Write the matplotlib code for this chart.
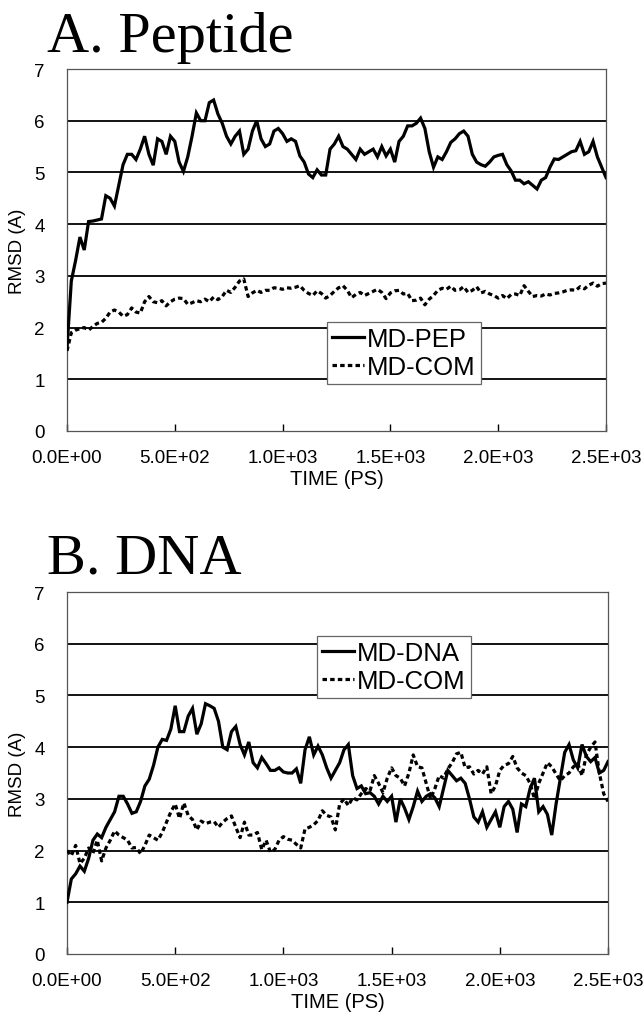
import numpy as np
import matplotlib
matplotlib.use("Agg")
import matplotlib.pyplot as plt

# ---------------- data ----------------
time_ps = list(range(0, 2501, 20))

pep_a = [1.6, 2.9, 3.3, 3.75, 3.5, 4.05, 4.06, 4.08, 4.1, 4.55,
         4.5, 4.35, 4.75, 5.15, 5.35, 5.35, 5.25, 5.45, 5.7, 5.35,
         5.14, 5.65, 5.6, 5.35, 5.7, 5.6, 5.2, 5.02, 5.3, 5.7,
         6.15, 6.0, 6.0, 6.35, 6.4, 6.13, 5.95, 5.7, 5.55, 5.7,
         5.8, 5.35, 5.45, 5.8, 6.0, 5.65, 5.5, 5.55, 5.8, 5.85,
         5.75, 5.6, 5.65, 5.6, 5.32, 5.2, 4.97, 4.9, 5.05, 4.95,
         4.95, 5.45, 5.55, 5.7, 5.5, 5.45, 5.35, 5.25, 5.45, 5.35,
         5.4, 5.45, 5.3, 5.5, 5.32, 5.45, 5.2, 5.6, 5.7, 5.9,
         5.9, 5.95, 6.05, 5.85, 5.4, 5.1, 5.3, 5.25, 5.4, 5.58,
         5.65, 5.75, 5.8, 5.7, 5.35, 5.2, 5.15, 5.12, 5.2, 5.3,
         5.33, 5.35, 5.15, 5.03, 4.85, 4.85, 4.78, 4.82, 4.75, 4.68,
         4.85, 4.9, 5.1, 5.26, 5.25, 5.3, 5.35, 5.4, 5.42, 5.6,
         5.35, 5.4, 5.6, 5.3, 5.1, 4.9]

com_a = [1.55, 1.9, 1.95, 1.98, 2.0, 1.95, 2.02, 2.08, 2.1, 2.18,
         2.3, 2.34, 2.3, 2.22, 2.25, 2.38, 2.3, 2.28, 2.5, 2.6,
         2.5, 2.48, 2.52, 2.42, 2.5, 2.55, 2.57, 2.56, 2.45, 2.48,
         2.52, 2.5, 2.55, 2.5, 2.59, 2.54, 2.6, 2.72, 2.68, 2.78,
         2.9, 2.94, 2.6, 2.67, 2.72, 2.68, 2.72, 2.72, 2.77, 2.76,
         2.74, 2.77, 2.76, 2.78, 2.81, 2.72, 2.66, 2.62, 2.71, 2.66,
         2.57, 2.62, 2.7, 2.77, 2.81, 2.72, 2.58, 2.64, 2.68, 2.62,
         2.66, 2.7, 2.74, 2.68, 2.56, 2.67, 2.71, 2.72, 2.65, 2.66,
         2.52, 2.53, 2.57, 2.44, 2.55, 2.62, 2.72, 2.76, 2.74, 2.8,
         2.72, 2.73, 2.79, 2.68, 2.72, 2.79, 2.67, 2.7, 2.65, 2.62,
         2.57, 2.62, 2.56, 2.64, 2.65, 2.62, 2.81, 2.7, 2.6, 2.62,
         2.61, 2.65, 2.63, 2.66, 2.67, 2.69, 2.72, 2.73, 2.72, 2.79,
         2.75, 2.82, 2.86, 2.8, 2.85, 2.86]

dna_b = [1.0, 1.45, 1.55, 1.7, 1.6, 1.85, 2.2, 2.32, 2.25, 2.45,
         2.6, 2.75, 3.05, 3.05, 2.9, 2.72, 2.75, 2.95, 3.25, 3.38,
         3.65, 4.0, 4.15, 4.13, 4.35, 4.8, 4.3, 4.3, 4.6, 4.75,
         4.25, 4.45, 4.84, 4.8, 4.75, 4.5, 4.0, 3.95, 4.3, 4.4,
         4.05, 3.85, 4.1, 3.7, 3.6, 3.8, 3.68, 3.55, 3.55, 3.6,
         3.52, 3.5, 3.5, 3.58, 3.3, 3.95, 4.2, 3.85, 4.02, 3.85,
         3.6, 3.4, 3.55, 3.7, 3.95, 4.05, 3.45, 3.2, 3.25, 3.1,
         3.12, 3.05, 2.9, 3.05, 2.95, 3.05, 2.55, 3.0, 2.82, 2.6,
         2.85, 3.15, 2.95, 3.05, 3.1, 3.02, 2.85, 3.2, 3.55, 3.45,
         3.35, 3.4, 3.3, 3.0, 2.65, 2.55, 2.75, 2.45, 2.6, 2.75,
         2.45, 2.85, 2.95, 2.8, 2.35, 2.9, 2.85, 3.2, 3.4, 2.75,
         2.85, 2.7, 2.3, 2.9, 3.4, 3.9, 4.05, 3.75, 3.6, 4.05,
         3.82, 3.72, 3.8, 3.5, 3.55, 3.72]

com_b = [2.0, 1.9, 2.1, 1.75, 1.85, 2.05, 1.95, 2.2, 1.8, 2.05,
         2.2, 2.38, 2.3, 2.25, 2.2, 2.05, 2.06, 1.94, 2.1, 2.3,
         2.25, 2.2, 2.35, 2.55, 2.75, 2.9, 2.62, 2.92, 2.68, 2.6,
         2.4, 2.57, 2.52, 2.55, 2.56, 2.45, 2.55, 2.62, 2.67, 2.45,
         2.25, 2.55, 2.3, 2.3, 2.35, 2.02, 2.2, 1.97, 2.02, 2.2,
         2.27, 2.22, 2.2, 2.12, 2.05, 2.42, 2.45, 2.5, 2.58, 2.77,
         2.68, 2.65, 2.4, 2.9, 3.0, 2.87, 3.02, 2.98, 3.1, 3.2,
         3.15, 3.45, 3.3, 3.12, 3.4, 3.6, 3.45, 3.4, 3.25, 3.5,
         3.85, 3.62, 3.6, 3.3, 3.0, 3.2, 3.45, 3.4, 3.58, 3.7,
         3.87, 3.9, 3.6, 3.62, 3.48, 3.55, 3.48, 3.62, 3.1, 3.25,
         3.55, 3.65, 3.68, 3.82, 3.6, 3.5, 3.45, 3.3, 3.0, 3.3,
         3.5, 3.7, 3.62, 3.48, 3.35, 3.45, 3.5, 3.62, 3.68, 3.45,
         3.85, 4.0, 4.1, 3.5, 3.1, 2.95]

xticks = [0, 500, 1000, 1500, 2000, 2500]
xtick_labels = ["0.0E+00", "5.0E+02", "1.0E+03", "1.5E+03", "2.0E+03", "2.5E+03"]
yticks = [0, 1, 2, 3, 4, 5, 6, 7]

panels = [
    {"title": "A. Peptide", "solid": pep_a, "dashed": com_a,
     "labels": ["MD-PEP", "MD-COM"]},
    {"title": "B. DNA", "solid": dna_b, "dashed": com_b,
     "labels": ["MD-DNA", "MD-COM"]},
]

# ---------------- figure ----------------
W, H = 643, 1020
fig = plt.figure(figsize=(W / 100, H / 100), dpi=100)
sans = ["Liberation Sans", "DejaVu Sans"]
serif = ["Liberation Serif", "DejaVu Serif"]

# axes boxes in pixels: left, top, right, bottom
boxes = [(67, 70, 606, 432), (67, 593, 608, 955)]
legend_anchor = [(0.482, 0.301), (0.462, 0.878)]
title_pos = [(47, 52), (47, 573)]

for i, p in enumerate(panels):
    l, t, r, b = boxes[i]
    ax = fig.add_axes([l / W, 1 - b / H, (r - l) / W, (b - t) / H])
    ax.set_xlim(0, 2500)
    ax.set_ylim(0, 7)
    for y in yticks[1:-1]:
        ax.axhline(y, color="black", lw=1.3, zorder=1)
    ax.plot(time_ps, p["solid"], color="black", lw=2.3, zorder=3,
            solid_joinstyle="miter", label=p["labels"][0])
    ax.plot(time_ps, p["dashed"], color="black", lw=2.3, zorder=3,
            linestyle=(0, (1.4, 1.0)), label=p["labels"][1])
    ax.set_xticks(xticks)
    ax.set_xticklabels(xtick_labels, family=sans, fontsize=13.5)
    ax.set_yticks(yticks)
    ax.set_yticklabels([str(v) for v in yticks], family=sans, fontsize=13.5)
    ax.tick_params(axis="x", direction="in", length=5, width=1, pad=13,
                   top=False)
    ax.tick_params(axis="y", length=0, pad=16)
    for s in ax.spines.values():
        s.set_color("#555555")
        s.set_linewidth(0.9)
    ax.set_xlabel("TIME (PS)", family=sans, fontsize=14.5, labelpad=2)
    ax.set_ylabel("RMSD (A)", family=sans, fontsize=13.5, labelpad=6)
    leg = ax.legend(loc="upper left", bbox_to_anchor=legend_anchor[i],
                    prop={"family": sans, "size": 18.5}, frameon=True,
                    fancybox=False, framealpha=1, edgecolor="#666666",
                    borderpad=0.2, handlelength=1.25, handletextpad=0.12,
                    labelspacing=0.15, borderaxespad=0)
    leg.get_frame().set_linewidth(0.9)
    leg.set_zorder(5)
    tx, ty = title_pos[i]
    fig.text(tx / W, 1 - ty / H, p["title"], family=serif, fontsize=42,
             ha="left", va="baseline")

fig.savefig("out.png", dpi=100)
